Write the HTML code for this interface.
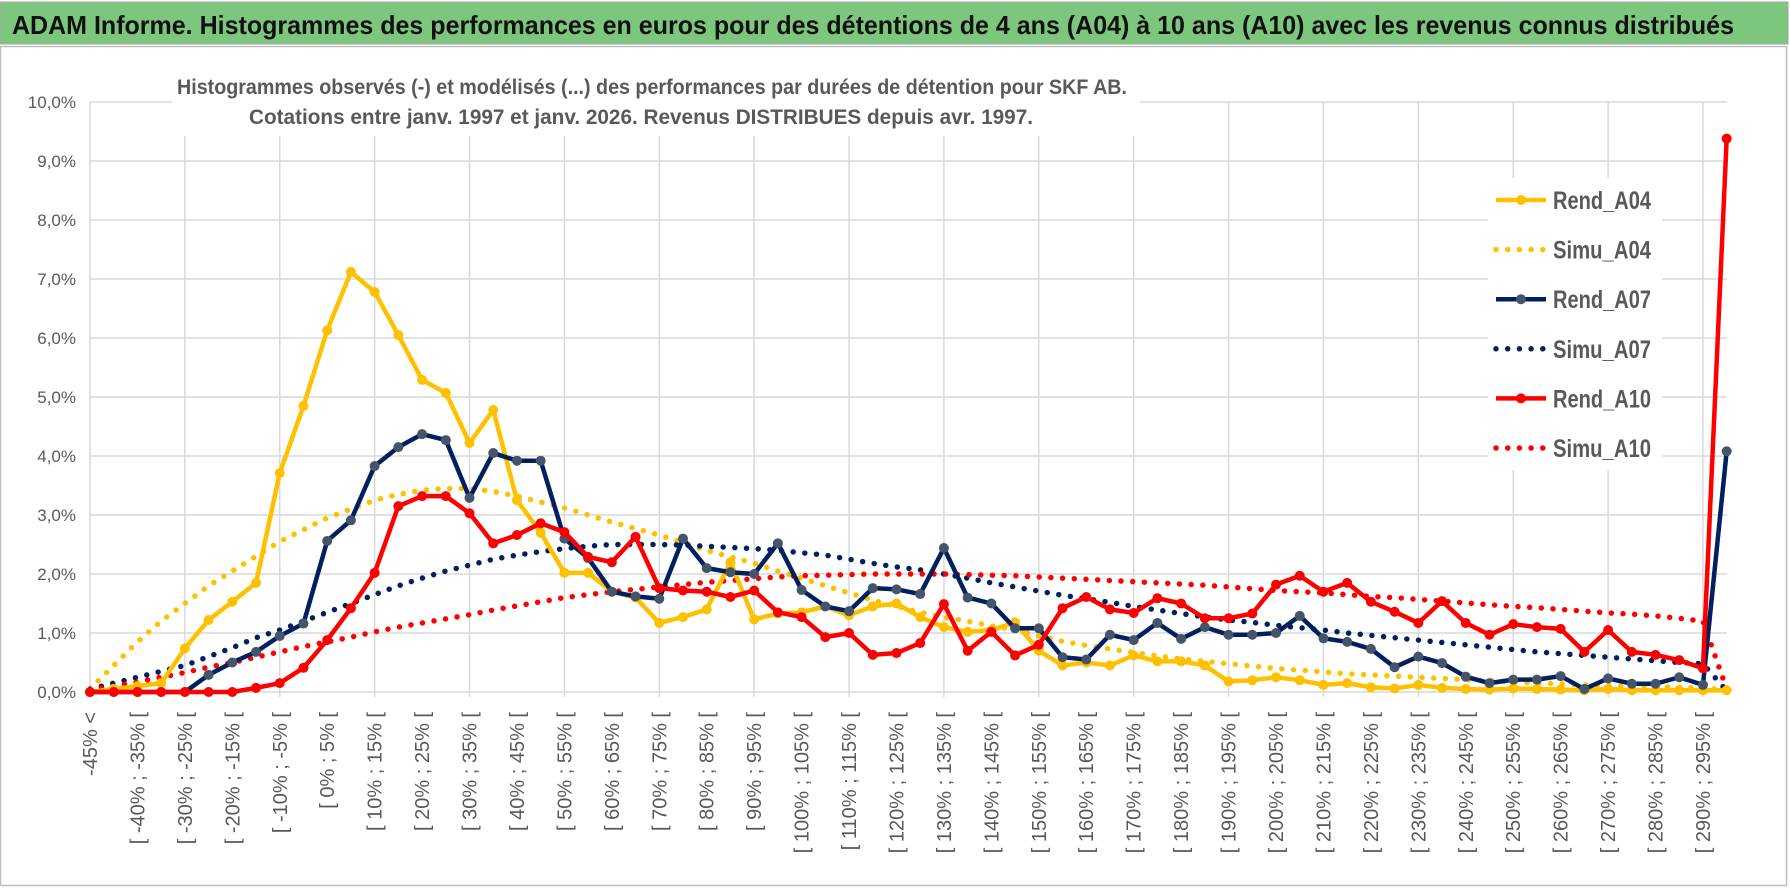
<!DOCTYPE html>
<html><head><meta charset="utf-8">
<style>
html,body{margin:0;padding:0;background:#fff;}
svg{display:block;font-family:"Liberation Sans",sans-serif;}
</style></head>
<body>
<svg id="chart" width="1790" height="888" viewBox="0 0 1790 888" xmlns="http://www.w3.org/2000/svg">
  <rect x="0" y="0" width="1790" height="888" fill="#fff"/>
  <rect x="0.5" y="46.5" width="1786" height="839" fill="#fff" stroke="#bfbfbf" stroke-width="1.5"/>
  <rect x="0" y="2" width="1788" height="42" fill="#7dc67e" stroke="#a6a6a6" stroke-width="1"/>
  <text x="12" y="34" font-size="26" font-weight="bold" fill="#111" textLength="1722" lengthAdjust="spacingAndGlyphs">ADAM Informe. Histogrammes des performances en euros pour des détentions de 4 ans (A04) à 10 ans (A10) avec les revenus connus distribués</text>
  <g id="grid"></g>
  <g id="yaxis"></g>
  <g id="xaxis"></g>
  <g id="series"></g>
  <rect x="172" y="68" width="968" height="68" fill="#fff"/>
  <text x="177" y="94" font-size="21" font-weight="bold" fill="#595959" textLength="950" lengthAdjust="spacingAndGlyphs">Histogrammes observés (-) et modélisés (...) des performances par durées de détention pour SKF AB.</text>
  <text x="249" y="124" font-size="21" font-weight="bold" fill="#595959" textLength="784" lengthAdjust="spacingAndGlyphs">Cotations entre janv. 1997 et janv. 2026. Revenus DISTRIBUES depuis avr. 1997.</text>
  <g id="legend"></g>
</svg>
<script>
const categories = (function(){ const c=["-45% <"]; for(let k=-45;k<=290;k+=5){ c.push("[ "+k+"% ; "+(k+5)+"% ["); } c.push("300% >="); return c.slice(0,70); })();
const rendA04 = [0,0.05,0.1,0.15,0.74,1.22,1.53,1.85,3.71,4.85,6.13,7.12,6.78,6.05,5.29,5.07,4.22,4.78,3.25,2.7,2.02,2.02,1.7,1.6,1.17,1.27,1.4,2.2,1.23,1.33,1.35,1.45,1.3,1.45,1.5,1.27,1.1,1.02,1.05,1.18,0.7,0.45,0.5,0.45,0.62,0.52,0.52,0.45,0.18,0.2,0.25,0.2,0.12,0.15,0.08,0.06,0.12,0.07,0.05,0.04,0.06,0.05,0.04,0.03,0.05,0.03,0.03,0.03,0.03,0.03];
const simuA04 = [0.05,0.45,0.85,1.2,1.5,1.8,2.05,2.3,2.55,2.75,2.95,3.1,3.25,3.35,3.42,3.45,3.45,3.4,3.32,3.22,3.12,3.0,2.88,2.77,2.66,2.53,2.4,2.29,2.18,2.05,1.93,1.8,1.68,1.56,1.45,1.35,1.27,1.2,1.12,1.05,0.95,0.86,0.79,0.73,0.67,0.61,0.56,0.52,0.48,0.44,0.4,0.37,0.34,0.31,0.29,0.27,0.25,0.23,0.21,0.19,0.17,0.15,0.14,0.12,0.11,0.1,0.09,0.08,0.07,0.03];
const rendA07 = [0,0,0,0,0,0.29,0.5,0.68,0.95,1.16,2.56,2.91,3.83,4.15,4.37,4.27,3.29,4.05,3.92,3.92,2.6,2.27,1.7,1.62,1.58,2.6,2.1,2.03,2.0,2.52,1.73,1.45,1.37,1.76,1.74,1.66,2.44,1.6,1.5,1.08,1.08,0.59,0.55,0.97,0.88,1.17,0.9,1.1,0.97,0.97,1.0,1.29,0.91,0.85,0.73,0.42,0.6,0.49,0.26,0.15,0.21,0.21,0.27,0.05,0.23,0.14,0.14,0.25,0.12,4.08];
const simuA07 = [0.05,0.15,0.25,0.35,0.45,0.6,0.75,0.92,1.05,1.2,1.35,1.5,1.65,1.8,1.93,2.05,2.15,2.25,2.32,2.38,2.43,2.47,2.5,2.5,2.5,2.49,2.47,2.45,2.43,2.4,2.36,2.32,2.25,2.18,2.12,2.07,2.0,1.93,1.85,1.78,1.71,1.64,1.58,1.52,1.45,1.39,1.33,1.27,1.22,1.18,1.13,1.09,1.05,1.0,0.96,0.92,0.88,0.84,0.8,0.76,0.72,0.68,0.65,0.62,0.59,0.56,0.53,0.5,0.48,0.02];
const rendA10 = [0,0,0,0,0,0,0,0.07,0.15,0.41,0.88,1.42,2.02,3.15,3.32,3.32,3.03,2.52,2.66,2.86,2.71,2.29,2.2,2.63,1.76,1.72,1.7,1.61,1.72,1.35,1.27,0.93,1.0,0.63,0.66,0.83,1.49,0.7,1.02,0.62,0.8,1.42,1.61,1.4,1.34,1.59,1.5,1.25,1.25,1.33,1.82,1.97,1.7,1.85,1.53,1.36,1.17,1.54,1.17,0.97,1.15,1.1,1.07,0.68,1.05,0.68,0.63,0.54,0.4,9.38];
const simuA10 = [0.03,0.1,0.17,0.25,0.33,0.42,0.5,0.59,0.68,0.77,0.85,0.93,1.02,1.1,1.17,1.24,1.31,1.39,1.46,1.53,1.6,1.65,1.7,1.74,1.78,1.82,1.86,1.89,1.92,1.95,1.97,1.98,1.99,2.0,2.0,2.0,2.0,1.99,1.98,1.97,1.95,1.93,1.91,1.89,1.87,1.85,1.83,1.81,1.78,1.75,1.72,1.7,1.68,1.65,1.62,1.6,1.57,1.54,1.51,1.48,1.45,1.43,1.4,1.37,1.34,1.32,1.29,1.25,1.2,0.05];
const yTicks = [0,1,2,3,4,5,6,7,8,9,10];
const yTickLabels = ["0,0%","1,0%","2,0%","3,0%","4,0%","5,0%","6,0%","7,0%","8,0%","9,0%","10,0%"];

const NS="http://www.w3.org/2000/svg";
const X0=90, X1=1727, STEP=23.72, Y0=692, PX=59;
function xPos(i){ return X0 + i*STEP; }
function yPos(v){ return Y0 - v*PX; }
function mk(tag, attrs, parent){ const e=document.createElementNS(NS,tag); for(const k in attrs) e.setAttribute(k,attrs[k]); parent.appendChild(e); return e; }

const grid=document.getElementById('grid');
yTicks.forEach(function(t){
  const l=mk('line',{x1:X0,x2:X1,y1:yPos(t),y2:yPos(t),stroke:'#d9d9d9','stroke-width':1.5},grid);
  
  
});
for(let i=0;i<categories.length;i+=4){
  const l=mk('line',{x1:xPos(i),x2:xPos(i),y1:yPos(10),y2:Y0+5,stroke:'#d9d9d9','stroke-width':1.5},grid);
  
  
}
const yax=document.getElementById('yaxis');
yTicks.forEach(function(t,k){
  const tx=mk('text',{x:76,y:yPos(t)+6,'text-anchor':'end','font-size':17,fill:'#595959'},yax);
  tx.textContent=yTickLabels[k];
  
  
});
const xax=document.getElementById('xaxis');
for(let i=0;i<categories.length;i+=2){
  const x=xPos(i)+7, y=712;
  const tx=mk('text',{x:x,y:y,'text-anchor':'end','font-size':20,fill:'#595959',transform:'rotate(-90 '+x+' '+y+')'},xax);
  tx.textContent=categories[i];
  
  
}
const ser=document.getElementById('series');
function pts(arr){ return arr.map(function(v,i){ return xPos(i)+','+yPos(v); }).join(' '); }
function dotted(arr,color,name){
  const p=mk('polyline',{points:pts(arr),fill:'none',stroke:color,'stroke-width':5.5,'stroke-linecap':'round','stroke-dasharray':'0 11.7'},ser);
  
  
}
function solid(arr,color,mcolor,name){
  const g=mk('g',{},ser);
  
  
  mk('polyline',{points:pts(arr),fill:'none',stroke:color,'stroke-width':4.5,'stroke-linejoin':'round'},g);
  arr.forEach(function(v,i){
    const c=mk('circle',{cx:xPos(i),cy:yPos(v),r:5,fill:mcolor},g);
    
    
  });
}
dotted(simuA04,'#ffc000','simu-a04-line');
dotted(simuA07,'#002060','simu-a07-line');
dotted(simuA10,'#ff0000','simu-a10-line');
solid(rendA04,'#ffc000','#ffc000','rend-a04-line');
solid(rendA07,'#002060','#44546a','rend-a07-line');
solid(rendA10,'#ff0000','#ff0000','rend-a10-line');

const lg=document.getElementById('legend');
const lbg=mk('rect',{x:1488,y:178,width:174,height:292,fill:'#fff'},lg);


const legendNames=["Rend_A04","Simu_A04","Rend_A07","Simu_A07","Rend_A10","Simu_A10"];
const legendColors=["#ffc000","#ffc000","#002060","#002060","#ff0000","#ff0000"];
const legendMarkers=["#ffc000",null,"#44546a",null,"#ff0000",null];
legendNames.forEach(function(n,k){
  const y=200+k*49.6;
  const g=mk('g',{},lg);
  
  
  if(legendMarkers[k]){
    mk('line',{x1:1496,x2:1546,y1:y,y2:y,stroke:legendColors[k],'stroke-width':4.5},g);
    mk('circle',{cx:1521,cy:y,r:5,fill:legendMarkers[k]},g);
  } else {
    mk('line',{x1:1496,x2:1546,y1:y,y2:y,stroke:legendColors[k],'stroke-width':5.5,'stroke-linecap':'round','stroke-dasharray':'0 11.7'},g);
  }
  const t=mk('text',{x:1553,y:y+9,'font-size':25,'font-weight':'bold',fill:'#595959',textLength:98,lengthAdjust:'spacingAndGlyphs'},g);
  t.textContent=n;
});
</script>
</body></html>
